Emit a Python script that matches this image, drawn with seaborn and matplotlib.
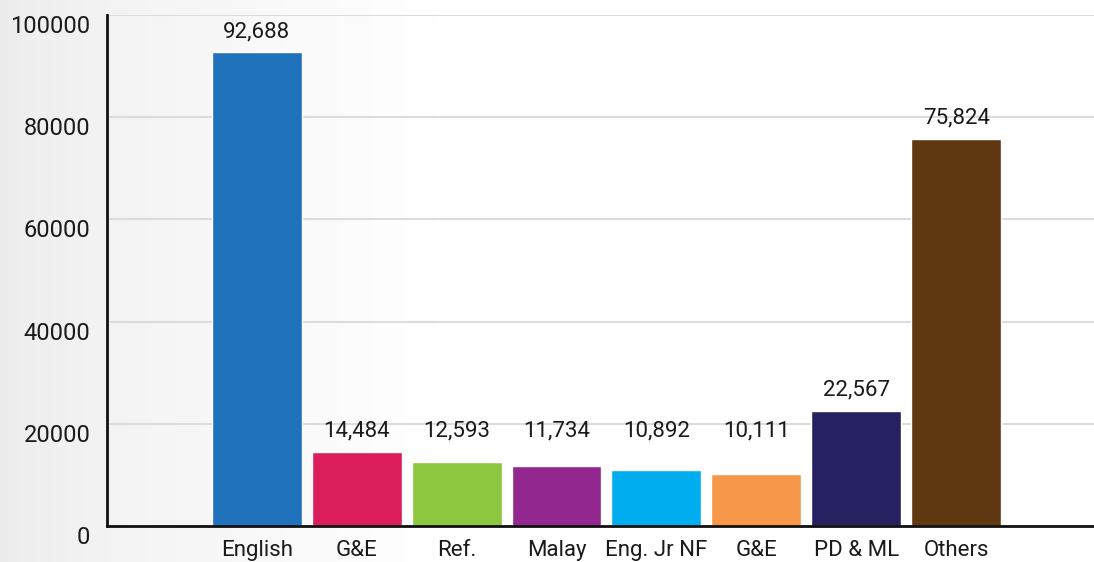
import numpy as np
import pandas as pd
import matplotlib
matplotlib.use("Agg")
import matplotlib.pyplot as plt
import matplotlib.transforms as mtransforms
import seaborn as sns

categories = ["English", "G&E", "Ref.", "Malay", "Eng. Jr NF", "G&E", "PD & ML", "Others"]
values = [92688, 14484, 12593, 11734, 10892, 10111, 22567, 75824]
colors = ["#1f72bb", "#db1d5c", "#8dc63f", "#92278f", "#00aeef", "#f7974a", "#262262", "#603913"]
y_ticks = [0, 20000, 40000, 60000, 80000, 100000]

sns.set_theme(style="white")
plt.rcParams["font.family"] = ["Roboto", "DejaVu Sans"]

fig = plt.figure(figsize=(10.94, 5.62), dpi=100, facecolor="white")

# soft background gradient (light grey on the left fading to white)
bg = fig.add_axes([0, 0, 1, 1], zorder=-10)
grad = np.linspace(0, 1, 256)
grad = np.clip(grad * 2.5, 0, 1) ** 0.7
img = np.tile(grad, (10, 1))
bg.imshow(img, aspect="auto", cmap=matplotlib.colors.LinearSegmentedColormap.from_list(
    "bgc", ["#ececec", "#ffffff"]), extent=[0, 1, 0, 1], vmin=0, vmax=1)
bg.set_axis_off()

ax = fig.add_axes([107 / 1094, 1 - 526 / 562, 1 - 107 / 1094, (526 - 15) / 562])
ax.patch.set_alpha(0)

df = pd.DataFrame({"idx": [str(i) for i in range(len(values))], "value": values})
sns.barplot(data=df, x="idx", y="value", hue="idx", palette=colors, legend=False,
            width=0.9, saturation=1, ax=ax, zorder=3)

ax.set_xlim(-1.5, 8.38)
ax.set_ylim(0, 100000)
ax.set_yticks(y_ticks)
ax.set_yticklabels([str(t) for t in y_ticks])
ax.set_xticks(range(len(categories)))
ax.set_xticklabels(categories)
ax.set_xlabel("")
ax.set_ylabel("")

ax.grid(axis="y", color="#dcdcdc", linewidth=1.5, zorder=0)
ax.grid(axis="x", visible=False)
ax.set_axisbelow(True)

for side in ["top", "right"]:
    ax.spines[side].set_visible(False)
for side in ["left", "bottom"]:
    ax.spines[side].set_visible(True)
    ax.spines[side].set_color("#111111")
    ax.spines[side].set_linewidth(2)
    ax.spines[side].set_zorder(5)

ax.tick_params(axis="both", length=0, colors="#1a1a1a")
ax.tick_params(axis="y", labelsize=17, pad=12)
ax.tick_params(axis="x", labelsize=16, pad=10)

offset = mtransforms.ScaledTranslation(0, -9 / 100, fig.dpi_scale_trans)
for lbl in ax.get_yticklabels():
    lbl.set_transform(lbl.get_transform() + offset)

label_floor = values[1]
for i, v in enumerate(values):
    ax.annotate(f"{v:,}", xy=(i, max(v, label_floor)), xytext=(0, 11), textcoords="offset points",
                ha="center", va="baseline", fontsize=16, color="#1a1a1a")

fig.savefig("out.png", dpi=100, facecolor=fig.get_facecolor())
